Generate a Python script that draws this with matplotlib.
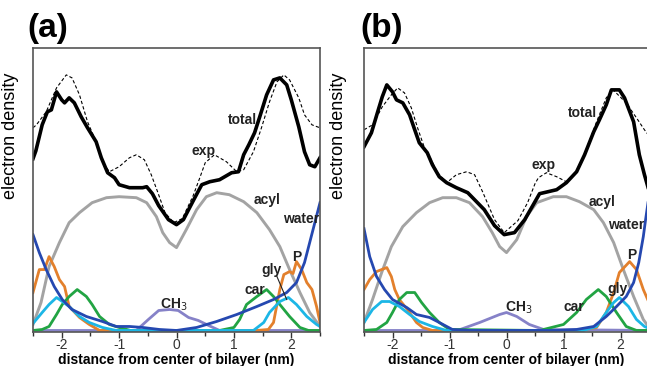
import matplotlib
matplotlib.use("Agg")
import matplotlib.pyplot as plt

plt.rcParams['font.family'] = ['Liberation Sans', 'DejaVu Sans']
plt.rcParams['axes.unicode_minus'] = False

# ---- panel (a) ----
a_total_x = [-2.5, -2.45, -2.34, -2.25, -2.18, -2.09, -2.0, -1.95, -1.87, -1.78, -1.66, -1.55, -1.40, -1.31,
             -1.2, -1.08, -1.0, -0.82, -0.59, -0.52, -0.42, -0.31, -0.14, 0.0, 0.12, 0.31, 0.44, 0.58, 0.75,
             0.96, 1.08, 1.17, 1.26, 1.36, 1.45, 1.57, 1.69, 1.80, 1.92, 2.0, 2.13, 2.23, 2.32, 2.41, 2.5]
a_total_y = [172, 180, 206, 219, 221, 239, 231, 228, 233, 228, 214, 203, 189, 173,
             158, 153, 146, 143, 143, 144, 137, 125, 111, 106, 111, 132, 146, 149, 151,
             158, 159, 176, 186, 198, 214, 236, 251, 253, 246, 231, 204, 179, 166, 164, 173]
a_exp_x = [-2.5, -2.44, -2.27, -2.09, -1.92, -1.82, -1.69, -1.55, -1.40, -1.29, -1.17, -1.0, -0.82, -0.70,
           -0.56, -0.44, -0.33, -0.2, -0.05, 0.1, 0.29, 0.40, 0.5, 0.66, 0.87, 1.05, 1.17, 1.34, 1.48, 1.62,
           1.75, 1.87, 1.97, 2.13, 2.23, 2.36, 2.5]
a_exp_y = [203, 206, 219, 243, 256, 253, 236, 209, 189, 169, 159, 164, 173, 176,
           171, 156, 139, 118, 108, 112, 135, 152, 168, 176, 169, 159, 161, 179, 203, 229,
           249, 256, 251, 233, 216, 206, 203]
a_acyl_x = [-2.5, -2.36, -2.22, -2.04, -1.87, -1.69, -1.47, -1.22, -1.0, -0.70, -0.52, -0.35, -0.24, -0.12,
            0.0, 0.17, 0.35, 0.52, 0.70, 0.92, 1.17, 1.40, 1.62, 1.80, 1.97, 2.15, 2.32, 2.5]
a_acyl_y = [6, 28, 64, 88, 108, 118, 128, 133, 134, 133, 128, 114, 98, 88,
            83, 101, 121, 134, 138, 136, 129, 118, 101, 84, 61, 38, 18, 4]
a_water_x = [-2.5, -2.39, -2.27, -2.13, -1.99, -1.82, -1.57, -1.29, -1.05, -0.82, -0.59, -0.30, 0.0,
             0.35, 0.70, 1.05, 1.40, 1.69, 1.92, 2.09, 2.23, 2.32, 2.41, 2.5]
a_water_y = [96, 78, 61, 44, 31, 21, 14, 9, 4, 4, 3, 1, 0,
             3, 9, 16, 24, 31, 38, 48, 68, 88, 108, 128]
a_p_x = [-2.5, -2.39, -2.30, -2.22, -2.13, -2.04, -1.95, -1.87, -1.69, -1.52, -1.34, -1.0, 1.4, 1.6,
         1.69, 1.80, 1.87, 1.97, 2.03, 2.09, 2.18, 2.27, 2.36, 2.44, 2.5]
a_p_y = [38, 61, 61, 74, 64, 51, 44, 24, 13, 6, 0, 0, 0, 1,
         8, 41, 56, 59, 57, 69, 61, 48, 41, 24, 8]
a_car_x = [-2.5, -2.34, -2.22, -2.09, -1.99, -1.87, -1.73, -1.57, -1.47, -1.34, -1.17, -1.0, -0.8,
           0.75, 1.0, 1.1, 1.22, 1.40, 1.57, 1.69, 1.80, 1.97, 2.15, 2.3, 2.5]
a_car_y = [0, 1, 4, 16, 26, 34, 41, 34, 26, 14, 6, 3, 0,
           0, 3, 11, 26, 34, 41, 34, 26, 14, 3, 0, 0]
a_gly_x = [-2.5, -2.34, -2.22, -2.09, -1.99, -1.87, -1.69, -1.52, -1.29, -1.05,
           1.34, 1.52, 1.62, 1.80, 1.95, 2.09, 2.27, 2.44, 2.5]
a_gly_y = [7, 18, 26, 33, 29, 24, 14, 8, 3, 0,
           0, 8, 18, 29, 33, 26, 14, 6, 4]
a_ch3_x = [-2.5, -0.7, -0.49, -0.31, -0.12, 0.03, 0.21, 0.38, 0.56, 0.75, 2.5]
a_ch3_y = [0, 0, 11, 20, 21, 20, 13, 10, 5, 0, 0]

# ---- panel (b) ----
b_total_x = [-2.5, -2.37, -2.26, -2.18, -2.1, -2.0, -1.93, -1.82, -1.70, -1.61, -1.53, -1.39, -1.30, -1.18,
             -1.05, -0.88, -0.68, -0.39, -0.21, -0.04, 0.14, 0.32, 0.49, 0.58, 0.88, 1.05, 1.23, 1.37, 1.53,
             1.63, 1.75, 1.84, 1.98, 2.07, 2.23, 2.33, 2.42, 2.5]
b_total_y = [184, 198, 219, 234, 246, 239, 231, 228, 216, 201, 188, 178, 166, 154,
             148, 143, 138, 121, 105, 96, 98, 111, 128, 137, 141, 148, 159, 176, 199,
             211, 226, 241, 241, 233, 209, 176, 156, 140]
b_exp_x = [-2.5, -2.35, -2.18, -2.02, -1.91, -1.79, -1.67, -1.56, -1.44, -1.32, -1.21, -1.05, -0.88, -0.70,
           -0.56, -0.42, -0.21, -0.04, 0.2, 0.37, 0.50, 0.56, 0.70, 0.88, 1.05, 1.23, 1.37, 1.58, 1.75,
           1.87, 2.1, 2.28, 2.42, 2.5]
b_exp_y = [201, 206, 224, 236, 243, 238, 223, 203, 183, 171, 158, 148, 156, 159,
           156, 139, 111, 98, 110, 128, 147, 153, 158, 154, 149, 160, 177, 209, 233,
           241, 228, 213, 201, 195]
b_acyl_x = [-2.5, -2.35, -2.19, -2.02, -1.82, -1.58, -1.35, -1.12, -0.88, -0.65, -0.42, -0.25, -0.12,
            0.0, 0.18, 0.35, 0.53, 0.82, 1.05, 1.28, 1.53, 1.70, 1.88, 2.05, 2.23, 2.40, 2.5]
b_acyl_y = [8, 31, 58, 84, 104, 118, 128, 133, 133, 128, 114, 98, 84,
            78, 91, 114, 128, 134, 134, 129, 121, 108, 88, 61, 34, 11, 3]
b_water_x = [-2.5, -2.40, -2.28, -2.14, -2.0, -1.75, -1.58, -1.35, -1.18, -0.95, -0.65,
             0.88, 1.23, 1.53, 1.75, 1.93, 2.1, 2.23, 2.32, 2.40, 2.44, 2.5]
b_water_y = [102, 74, 54, 41, 31, 23, 16, 13, 8, 1, 0,
             0, 1, 4, 14, 24, 34, 48, 68, 94, 111, 135]
b_p_x = [-2.5, -2.40, -2.28, -2.1, -2.02, -1.96, -1.88, -1.74, -1.58, -1.47, -1.3,
         1.28, 1.58, 1.75, 1.88, 1.98, 2.16, 2.28, 2.40, 2.5]
b_p_y = [41, 51, 59, 63, 54, 41, 31, 21, 8, 3, 0,
         0, 3, 18, 38, 58, 69, 61, 41, 28]
b_car_x = [-2.5, -2.28, -2.1, -2.0, -1.88, -1.75, -1.61, -1.49, -1.35, -1.18, -1.0,
           0.58, 1.0, 1.23, 1.40, 1.61, 1.75, 1.93, 2.1, 2.28, 2.5]
b_car_y = [0, 1, 8, 18, 31, 38, 38, 28, 18, 8, 1,
           0, 6, 18, 31, 41, 34, 18, 4, 0, 0]
b_gly_x = [-2.5, -2.35, -2.19, -2.05, -1.88, -1.70, -1.53, -1.30, -1.05,
           1.35, 1.58, 1.75, 1.88, 1.98, 2.14, 2.28, 2.42, 2.5]
b_gly_y = [8, 21, 29, 29, 24, 16, 9, 4, 0,
           0, 4, 18, 28, 33, 24, 11, 4, 2]
b_ch3_x = [-2.5, -0.86, -0.47, -0.12, 0.0, 0.18, 0.40, 0.65, 2.5]
b_ch3_y = [0, 0, 8, 16, 18, 14, 6, 1, 0]

# label positions (x, y, ha) per panel
a_labels = {'total': (1.40, 211, 'right'), 'exp': (0.47, 180, 'center'), 'acyl': (1.57, 131, 'center'),
            'water': (2.18, 112, 'center'), 'P': (2.09, 74, 'center'), 'gly': (1.66, 61, 'center'),
            'car': (1.36, 41, 'center'), 'CH$_3$': (-0.05, 26, 'center')}
b_labels = {'total': (1.58, 218, 'right'), 'exp': (0.65, 166, 'center'), 'acyl': (1.67, 129, 'center'),
            'water': (2.41, 106, 'right'), 'P': (2.19, 76, 'center'), 'gly': (1.95, 42, 'center'),
            'car': (1.18, 24, 'center'), 'CH$_3$': (0.21, 23, 'center')}

col_orange = '#e3802c'
col_green = '#22a443'
col_cyan = '#1cb6e6'
col_blue = '#2548b0'
col_gray = '#a3a3a3'
col_purple = '#8682c8'

fig = plt.figure(figsize=(6.47, 3.66), dpi=100)
ax_a = fig.add_axes([0.051, 0.093, 0.4436, 0.776])
ax_b = fig.add_axes([0.5626, 0.093, 0.4405, 0.776])


def draw(ax, d, labels, ylab_x):
    ax.plot(d['ch3'][0], d['ch3'][1], color=col_purple, lw=2.0)
    ax.plot(d['acyl'][0], d['acyl'][1], color=col_gray, lw=2.1)
    ax.plot(d['p'][0], d['p'][1], color=col_orange, lw=2.0)
    ax.plot(d['car'][0], d['car'][1], color=col_green, lw=2.0)
    ax.plot(d['gly'][0], d['gly'][1], color=col_cyan, lw=2.0)
    ax.plot(d['water'][0], d['water'][1], color=col_blue, lw=2.0)
    ax.plot(d['exp'][0], d['exp'][1], color='black', lw=0.8, ls=(0, (3, 2)))
    ax.plot(d['total'][0], d['total'][1], color='black', lw=2.6)
    for txt, (x, y, ha) in labels.items():
        ax.text(x, y, txt, ha=ha, va='center', fontsize=10, fontweight='bold', color='#222222')
    ax.set_xlim(-2.5, 2.5)
    ax.set_ylim(-1.5, 283)
    ax.set_xticks([-2, -1, 0, 1, 2])
    ax.set_xticks([-2.5, -1.5, -0.5, 0.5, 1.5, 2.5], minor=True)
    ax.set_yticks([])
    ax.tick_params(axis='x', which='major', length=4, width=1, pad=0.5, labelsize=10, colors='#333333')
    ax.tick_params(axis='x', which='minor', length=3, width=1, colors='#333333')
    for s in ax.spines.values():
        s.set_color('#555555')
        s.set_linewidth(1.2)
    ax.set_xlabel('distance from center of bilayer (nm)', fontsize=10, fontweight='bold', labelpad=0.5)
    ax.set_ylabel('electron density', fontsize=13)
    ax.yaxis.set_label_coords(ylab_x, 0.69)


draw(ax_a, {'total': (a_total_x, a_total_y), 'exp': (a_exp_x, a_exp_y), 'acyl': (a_acyl_x, a_acyl_y),
            'water': (a_water_x, a_water_y), 'p': (a_p_x, a_p_y), 'car': (a_car_x, a_car_y),
            'gly': (a_gly_x, a_gly_y), 'ch3': (a_ch3_x, a_ch3_y)}, a_labels, -0.049)
draw(ax_b, {'total': (b_total_x, b_total_y), 'exp': (b_exp_x, b_exp_y), 'acyl': (b_acyl_x, b_acyl_y),
            'water': (b_water_x, b_water_y), 'p': (b_p_x, b_p_y), 'car': (b_car_x, b_car_y),
            'gly': (b_gly_x, b_gly_y), 'ch3': (b_ch3_x, b_ch3_y)}, b_labels, -0.06)

# leader line for "gly" in panel (a)
ax_a.plot([1.75, 1.92], [54, 31], color='#222222', lw=0.8)

fig.text(27 / 647, 1 - 29 / 366, '(a)', fontsize=24, fontweight='bold', va='center', ha='left')
fig.text(360 / 647, 1 - 29 / 366, '(b)', fontsize=24, fontweight='bold', va='center', ha='left')

fig.savefig('out.png', dpi=100)
